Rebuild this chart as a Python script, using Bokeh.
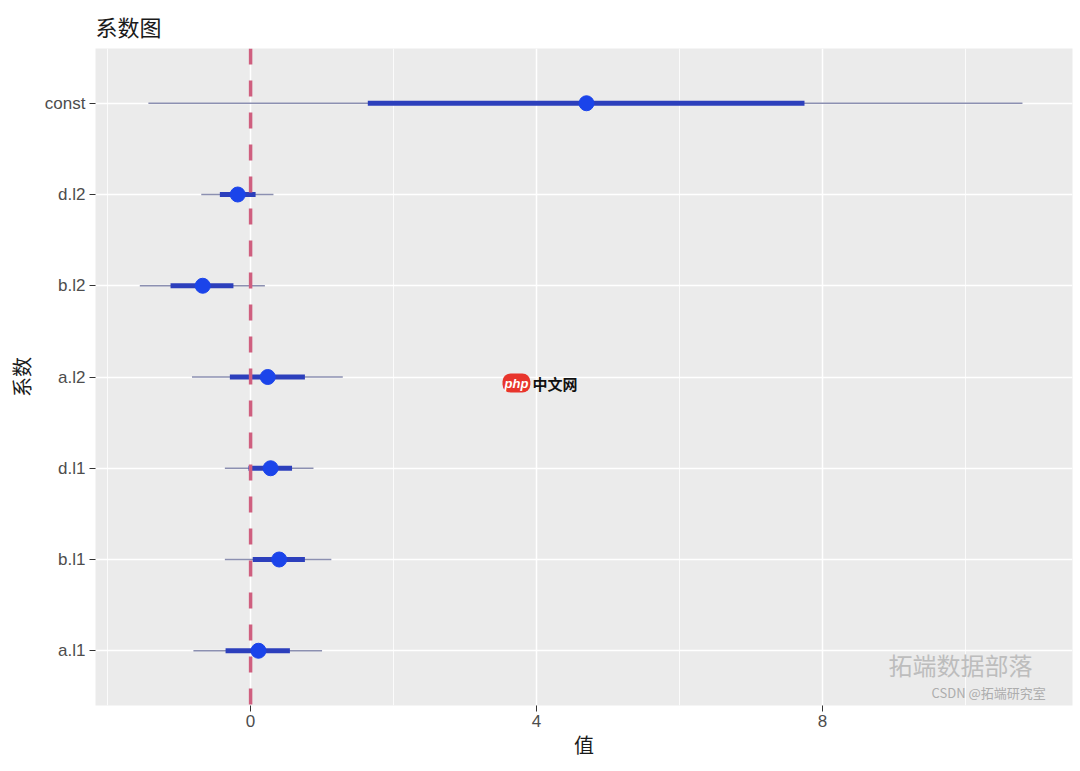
from bokeh.plotting import figure
from bokeh.models import FactorRange, Range1d, FixedTicker, Span, Label, ColumnDataSource
from bokeh.embed import file_html
from bokeh.resources import INLINE

# Data
terms = ["a.l1", "b.l1", "d.l1", "a.l2", "b.l2", "d.l2", "const"]
estimate = [0.11, 0.40, 0.28, 0.24, -0.67, -0.18, 4.70]
outer_low = [-0.80, -0.36, -0.36, -0.82, -1.55, -0.69, -1.43]
outer_high = [1.00, 1.13, 0.88, 1.29, 0.20, 0.32, 10.80]
inner_low = [-0.35, 0.03, -0.03, -0.29, -1.12, -0.43, 1.64]
inner_high = [0.55, 0.76, 0.58, 0.76, -0.24, 0.07, 7.75]
x_ticks = [0, 4, 8]
x_minor = [-2, 2, 6, 10]

src = ColumnDataSource(dict(term=terms, est=estimate, olo=outer_low, ohi=outer_high,
                            ilo=inner_low, ihi=inner_high))

CJK = "Noto Sans CJK SC"
LAT = "Liberation Sans"

p = figure(width=1080, height=771, output_backend="svg", toolbar_location=None,
           y_range=FactorRange(factors=terms, range_padding=0.1, range_padding_units="absolute"),
           x_range=Range1d(-2.17, 11.5),
           min_border_left=95, min_border_right=8, min_border_top=48, min_border_bottom=66)

p.title.text = "系数图"
p.title.text_font = CJK
p.title.text_font_size = "22px"
p.title.text_font_style = "normal"
p.title.text_color = "#1a1a1a"
p.title.align = "left"
p.title.standoff = 14

p.background_fill_color = "#EBEBEB"
p.border_fill_color = "white"
p.outline_line_color = None

p.xaxis.ticker = FixedTicker(ticks=x_ticks, minor_ticks=x_minor)
p.xgrid.grid_line_color = "white"
p.xgrid.grid_line_width = 1.5
p.xgrid.minor_grid_line_color = "white"
p.xgrid.minor_grid_line_width = 0.8
p.ygrid.grid_line_color = "white"
p.ygrid.grid_line_width = 1.5

for ax in (p.xaxis, p.yaxis):
    ax.axis_line_color = None
    ax.major_tick_line_color = "#333333"
    ax.major_tick_out = 6
    ax.major_tick_in = 0
    ax.minor_tick_line_color = None
    ax.major_label_text_color = "#4d4d4d"
    ax.major_label_text_font = LAT
    ax.major_label_text_font_size = "17px"
    ax.axis_label_text_font = CJK
    ax.axis_label_text_font_size = "20px"
    ax.axis_label_text_font_style = "normal"
    ax.axis_label_text_color = "#1a1a1a"

p.xaxis.axis_label = "值"
p.yaxis.axis_label = "系数"
p.xaxis.axis_label_standoff = 0
p.yaxis.axis_label_standoff = 6
p.xaxis.major_label_standoff = 3
p.yaxis.major_label_standoff = 4

p.segment(x0="olo", x1="ohi", y0="term", y1="term", source=src,
          line_color="#7f84a8", line_width=1.5, line_alpha=0.9)
p.segment(x0="ilo", x1="ihi", y0="term", y1="term", source=src,
          line_color="#2c3fbc", line_width=5)
p.scatter(x="est", y="term", source=src, size=15,
          fill_color="#1b44ea", line_color="#1b44ea")

vline = Span(location=0, dimension="height", line_color="#cf5f7f",
             line_width=3.5, line_dash="16 16")
p.add_layout(vline)

# watermark texts (kept inside the panel, bottom-right)
p.add_layout(Label(x=407, y=313, x_units="screen", y_units="screen", text="php",
                   text_font=LAT, text_font_size="13px", text_font_style="bold italic",
                   text_color="white",
                   background_fill_color="#e8352c", border_radius=8, padding=2))
p.add_layout(Label(x=437, y=312, x_units="screen", y_units="screen", text="中文网",
                   text_font=CJK, text_font_size="15px", text_font_style="bold",
                   text_color="#111111"))
p.add_layout(Label(x=793, y=24, x_units="screen", y_units="screen", text="拓端数据部落",
                   text_font=CJK, text_font_size="24px", text_color="#bdbdbd"))
p.add_layout(Label(x=836, y=4, x_units="screen", y_units="screen", text="CSDN @拓端研究室",
                   text_font=CJK, text_font_size="13px", text_color="#adadad"))

open("out.html", "w").write(file_html(p, INLINE))
